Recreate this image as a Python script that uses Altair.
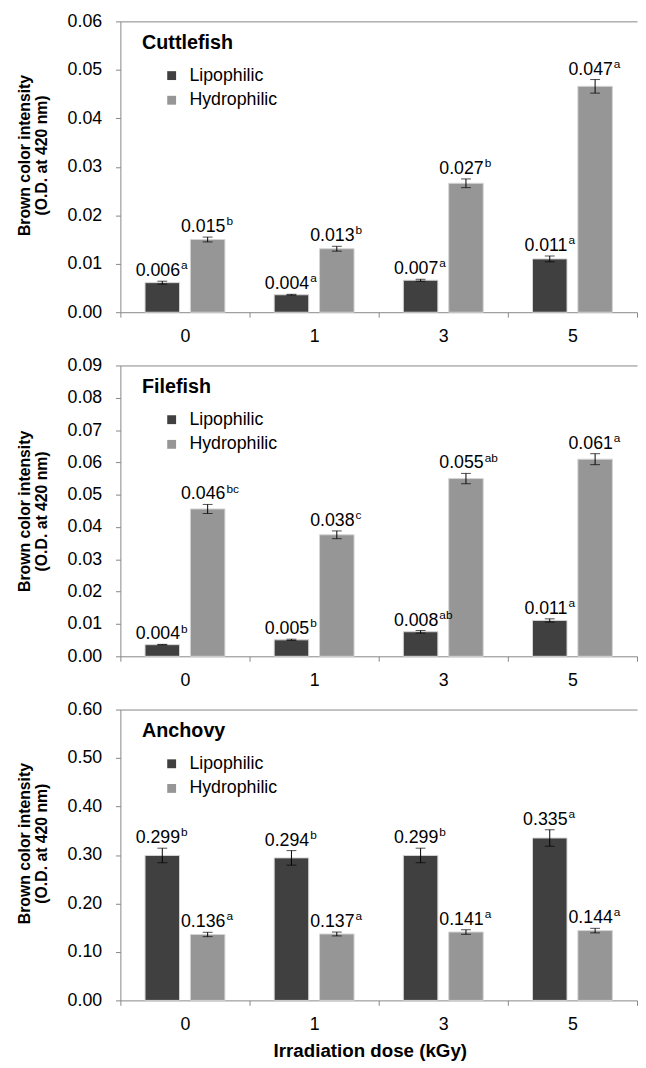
import altair as alt
import pandas as pd

doses = ["0", "1", "3", "5"]
series = ["Lipophilic", "Hydrophilic"]

# Cuttlefish
cut_lipo = [0.0061, 0.0036, 0.0066, 0.0110]
cut_lipo_err = [0.0003, 0.0001, 0.0002, 0.0006]
cut_lipo_sig = ["a", "a", "a", "a"]
cut_hydro = [0.0150, 0.0131, 0.0266, 0.0466]
cut_hydro_err = [0.0005, 0.0005, 0.0009, 0.0014]
cut_hydro_sig = ["b", "b", "b", "a"]

# Filefish
file_lipo = [0.0036, 0.0051, 0.0076, 0.0111]
file_lipo_err = [0.0001, 0.0002, 0.0004, 0.0005]
file_lipo_sig = ["b", "b", "ab", "a"]
file_hydro = [0.0456, 0.0376, 0.0550, 0.0610]
file_hydro_err = [0.0014, 0.0012, 0.0016, 0.0017]
file_hydro_sig = ["bc", "c", "ab", "a"]

# Anchovy
anch_lipo = [0.299, 0.294, 0.299, 0.335]
anch_lipo_err = [0.015, 0.015, 0.015, 0.017]
anch_lipo_sig = ["b", "b", "b", "a"]
anch_hydro = [0.136, 0.137, 0.141, 0.144]
anch_hydro_err = [0.0045, 0.004, 0.0047, 0.0047]
anch_hydro_sig = ["a", "a", "a", "a"]

FONT = "Liberation Sans"
GRAY = "#868686"
COLORS = ["#404040", "#969696"]
W = 524
H = 295


def frame(lipo, lipo_err, lipo_sig, hydro, hydro_err, hydro_sig):
    rows = []
    for i, d in enumerate(doses):
        for s, m, e, g in [("Lipophilic", lipo[i], lipo_err[i], lipo_sig[i]),
                           ("Hydrophilic", hydro[i], hydro_err[i], hydro_sig[i])]:
            rows.append({"dose": d, "series": s, "mean": m, "lo": m - e,
                         "hi": m + e, "sig": g})
    return pd.DataFrame(rows)


def panel(df, name, ymax, step, show_xtitle, title_shift):
    ticks = [round(step * k, 4) for k in range(int(round(ymax / step)) + 1)]
    yscale = alt.Scale(domain=[0, ymax], nice=False, zero=True)
    yaxis = alt.Axis(values=ticks, format=".2f", grid=False, tickSize=5,
                     tickColor=GRAY, domainColor=GRAY, labelFontSize=18,
                     labelColor="#000", labelPadding=14,
                     title=["Brown color intensity", "(O.D. at 420 nm)"],
                     titleFontSize=16, titleFontWeight="bold",
                     titleColor="#000", titlePadding=18, titleLineHeight=17,
                     titleY=H / 2 + title_shift)
    xoff = alt.XOffset("series:N", sort=series,
                       scale=alt.Scale(paddingInner=0.239, paddingOuter=0.543))
    xscale = alt.Scale(paddingInner=0, paddingOuter=0)
    base = alt.Chart(df)

    def yenc(field):
        return alt.Y(field, scale=yscale, axis=yaxis)

    bars = base.mark_bar(size=35, stroke="#d4d4d4", strokeWidth=1).encode(
        x=alt.X("dose:N", sort=doses, scale=xscale,
                axis=alt.Axis(title="Irradiation dose (kGy)" if show_xtitle else None,
                              labelAngle=0, tickBand="extent", tickSize=5,
                              tickColor=GRAY, domainColor=GRAY, labelFontSize=18,
                              labelPadding=11, labelColor="#000",
                              titleFontSize=19, titleFontWeight="bold",
                              titleColor="#000", titlePadding=8,
                              titleX=W / 2 - 9)),
        xOffset=xoff,
        y=yenc("mean:Q"),
        color=alt.Color("series:N", sort=series,
                        scale=alt.Scale(domain=series, range=COLORS),
                        legend=alt.Legend(title=name, orient="none", legendX=22,
                                          legendY=12, symbolType="square",
                                          symbolSize=81, symbolStrokeWidth=0,
                                          titleFontSize=20, titleFontWeight="bold",
                                          titleColor="#000", labelFontSize=18,
                                          labelColor="#000", symbolOffset=21,
                                          labelOffset=9, rowPadding=7,
                                          titlePadding=14, padding=0)),
    )

    xnone = alt.X("dose:N", sort=doses, scale=xscale, axis=None)
    stems = base.mark_rule(color="#000", strokeWidth=1).encode(
        x=alt.X("dose:N", sort=doses, scale=xscale,
                axis=alt.Axis(orient="top", labels=False, ticks=False, title=None,
                              domainColor=GRAY)),
        xOffset=xoff,
        y=yenc("lo:Q"),
        y2="hi:Q",
    )
    cap_hi = base.mark_tick(color="#000", size=10, thickness=1).encode(
        x=xnone, xOffset=xoff, y=yenc("hi:Q"))
    cap_lo = base.mark_tick(color="#000", size=10, thickness=1).encode(
        x=xnone, xOffset=xoff, y=yenc("lo:Q"))
    nums = base.mark_text(align="right", baseline="alphabetic", dx=18, dy=-5,
                          fontSize=18, color="#000").encode(
        x=xnone, xOffset=xoff, y=yenc("hi:Q"),
        text=alt.Text("mean:Q", format=".3f"))
    sups = base.mark_text(align="left", baseline="alphabetic", dx=19, dy=-12,
                          fontSize=12, color="#000").encode(
        x=xnone, xOffset=xoff, y=yenc("hi:Q"),
        text="sig:N")

    return alt.layer(bars, stems, cap_hi, cap_lo, nums, sups).resolve_axis(
        x="independent").properties(width=W, height=H)


p1 = panel(frame(cut_lipo, cut_lipo_err, cut_lipo_sig, cut_hydro, cut_hydro_err,
                 cut_hydro_sig), "Cuttlefish", 0.06, 0.01, False, -12)
p2 = panel(frame(file_lipo, file_lipo_err, file_lipo_sig, file_hydro,
                 file_hydro_err, file_hydro_sig), "Filefish", 0.09, 0.01, False, 0)
p3 = panel(frame(anch_lipo, anch_lipo_err, anch_lipo_sig, anch_hydro,
                 anch_hydro_err, anch_hydro_sig), "Anchovy", 0.6, 0.1, True, -12)

chart = alt.vconcat(p1, p2, p3, spacing=11).resolve_legend(
    color="independent").properties(
    padding={"left": 8, "top": -3, "right": 0, "bottom": 0}
).configure(font=FONT).configure_view(stroke=None)

chart.save("out.html", embed_options={"renderer": "svg", "actions": False})
